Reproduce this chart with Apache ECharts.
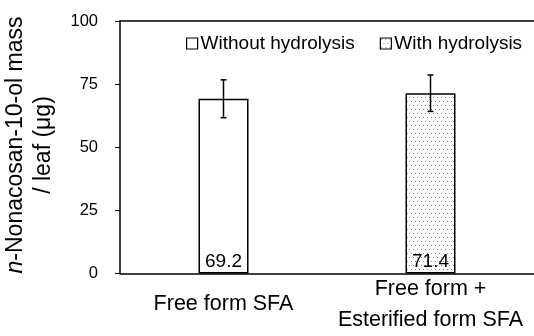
<!DOCTYPE html>
<html>
<head>
<meta charset="utf-8">
<script src="https://cdn.jsdelivr.net/npm/echarts@6/dist/echarts.min.js"></script>
<style>
html,body{margin:0;padding:0;background:#fff;}
#chart{width:534px;height:336px;}
</style>
</head>
<body>
<div id="chart"></div>
<script>
var categories = ['Free form SFA', 'Free form +\nEsterified form SFA'];
var seriesNames = ['Without hydrolysis', 'With hydrolysis'];
var withoutValues = [69.2, '-'];
var withValues = ['-', 71.4];
var means = [69.2, 71.4];
var errors = [7.5, 7.2];
var yTicks = [0, 25, 50, 75, 100];

var FONT = 'Liberation Sans, Arial, Helvetica, sans-serif';

// dotted pattern
var pc = document.createElement('canvas');
pc.width = 8; pc.height = 8;
var pctx = pc.getContext('2d');
pctx.fillStyle = '#ffffff';
pctx.fillRect(0, 0, 8, 8);
pctx.fillStyle = '#8a8a8a';
[[1,1],[5,1],[3,5],[7,5]].forEach(function(p){ pctx.fillRect(p[0], p[1], 1, 1); });
var dotted = { image: pc, repeat: 'repeat' };

var chart = echarts.init(document.getElementById('chart'), null, {renderer: 'canvas'});

var labelCfg = {
  show: true,
  position: 'insideBottom',
  distance: 2,
  color: '#000',
  fontSize: 19,
  fontFamily: FONT,
  formatter: function(p){ return p.value.toFixed(1); }
};

chart.setOption({
  animation: false,
  backgroundColor: '#fff',
  textStyle: { fontFamily: FONT, color: '#000' },
  grid: { left: 120, right: -4, top: 21, bottom: 62.5, containLabel: false },
  legend: {
    left: 181,
    top: 29,
    itemWidth: 11,
    itemHeight: 11,
    itemGap: 25,
    textStyle: { fontSize: 19, color: '#000', fontFamily: FONT, padding: [0, 0, 0, -2] },
    data: [
      { name: seriesNames[0], icon: 'rect', itemStyle: { color: '#fff', borderColor: '#000', borderWidth: 1.2 } },
      { name: seriesNames[1], icon: 'rect', itemStyle: { color: dotted, borderColor: '#000', borderWidth: 1.2 } }
    ]
  },
  xAxis: [{
    type: 'category',
    data: categories,
    axisLine: { show: true, lineStyle: { color: '#000', width: 1.5 } },
    axisTick: { show: false },
    axisLabel: {
      interval: 0, hideOverlap: false,
      color: '#000', fontSize: 21.5, fontFamily: FONT,
      margin: 31, verticalAlign: 'middle', lineHeight: 31, align: 'center'
    }
  }, {
    type: 'category',
    position: 'top',
    data: categories,
    axisLine: { show: true, lineStyle: { color: '#000', width: 1.5 } },
    axisTick: { show: false },
    axisLabel: { show: false }
  }],
  yAxis: {
    type: 'value',
    min: 0, max: 100, interval: 25,
    axisLine: { show: true, lineStyle: { color: '#000', width: 1.5 } },
    axisTick: { show: true, length: 5, lineStyle: { color: '#000', width: 1 } },
    splitLine: { show: false },
    axisLabel: { color: '#000', fontSize: 16.5, fontFamily: FONT, margin: 22 }
  },
  graphic: [{
    type: 'text',
    x: 30, y: 145,
    rotation: Math.PI / 2,
    style: {
      text: '{i|n}-Nonacosan-10-ol mass\n/ leaf (μg)',
      fontSize: 23,
      fontFamily: FONT,
      fill: '#000',
      align: 'center',
      verticalAlign: 'middle',
      lineHeight: 28,
      rich: { i: { fontStyle: 'italic', fontSize: 23, fontFamily: FONT, lineHeight: 28 } }
    }
  }],
  series: [{
    name: seriesNames[0],
    type: 'bar',
    data: withoutValues,
    barWidth: 50,
    barGap: '-100%',
    itemStyle: { color: '#fff', borderColor: '#000', borderWidth: 1.5 },
    label: labelCfg
  }, {
    name: seriesNames[1],
    type: 'bar',
    data: withValues,
    barWidth: 50,
    barGap: '-100%',
    itemStyle: { color: dotted, borderColor: '#000', borderWidth: 1.5 },
    label: labelCfg
  }, {
    type: 'custom',
    name: 'err',
    z: 10,
    data: means.map(function(m, i){ return [i, m - errors[i], m + errors[i]]; }),
    renderItem: function(params, api){
      var x = api.value(0);
      var lo = api.coord([x, api.value(1)]);
      var hi = api.coord([x, api.value(2)]);
      var cw = 3;
      var st = { stroke: '#000', lineWidth: 1.5 };
      return { type: 'group', children: [
        { type: 'line', shape: { x1: hi[0], y1: hi[1], x2: lo[0], y2: lo[1] }, style: st },
        { type: 'line', shape: { x1: hi[0]-cw, y1: hi[1], x2: hi[0]+cw, y2: hi[1] }, style: st },
        { type: 'line', shape: { x1: lo[0]-cw, y1: lo[1], x2: lo[0]+cw, y2: lo[1] }, style: st }
      ]};
    }
  }]
});
</script>
</body>
</html>
